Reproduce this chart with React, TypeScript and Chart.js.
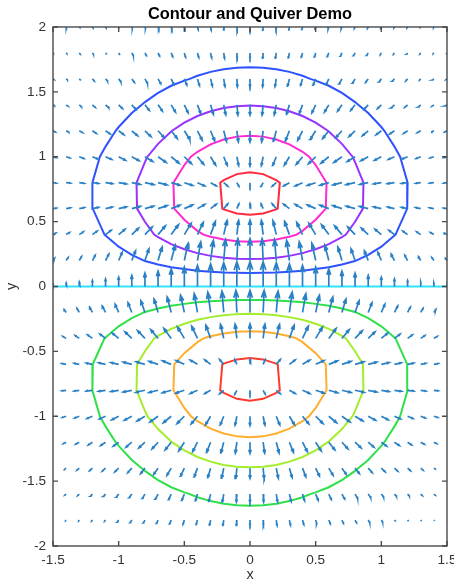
import React, { useEffect, useRef } from 'react';
import { Chart, registerables } from 'chart.js';

Chart.register(...registerables);

// ---------- text ----------
const TITLE = 'Contour and Quiver Demo';
const X_LABEL = 'x';
const Y_LABEL = 'y';
const X_TICKS = [-1.5, -1, -0.5, 0, 0.5, 1, 1.5];
const Y_TICKS = [-2, -1.5, -1, -0.5, 0, 0.5, 1, 1.5, 2];

// ---------- quiver grid ----------
const QX = [-1.5, -1.4, -1.3, -1.2, -1.1, -1, -0.9, -0.8, -0.7, -0.6, -0.5, -0.4, -0.3, -0.2, -0.1, 0,
  0.1, 0.2, 0.3, 0.4, 0.5, 0.6, 0.7, 0.8, 0.9, 1, 1.1, 1.2, 1.3, 1.4, 1.5];
const QY = [-2, -1.8, -1.6, -1.4, -1.2, -1, -0.8, -0.6, -0.4, -0.2, 0, 0.2, 0.4, 0.6, 0.8, 1, 1.2, 1.4, 1.6, 1.8, 2];

// quadrant (x >= 0, y >= 0) columns / rows; field is mirrored to the other quadrants
const GRID_X = [0, 0.1, 0.2, 0.3, 0.4, 0.5, 0.6, 0.7, 0.8, 0.9, 1, 1.1, 1.2, 1.3, 1.4, 1.5];
const GRID_Y = [0, 0.2, 0.4, 0.6, 0.8, 1, 1.2, 1.4, 1.6, 1.8, 2];

// horizontal arrow components (quadrant), row per GRID_Y
const U_Y00 = [0, 0, 0, 0, 0, 0, 0, 0, 0, 0, 0, 0, 0, 0, 0, 0];
const U_Y02 = [0, -0.04, -0.07, -0.11, -0.13, -0.15, -0.16, -0.16, -0.16, -0.15, -0.14, -0.13, -0.11, -0.09, -0.08, -0.06];
const U_Y04 = [0, -0.07, -0.13, -0.19, -0.23, -0.27, -0.29, -0.29, -0.29, -0.27, -0.25, -0.22, -0.19, -0.16, -0.13, -0.11];
const U_Y06 = [0, -0.08, -0.16, -0.23, -0.29, -0.33, -0.35, -0.36, -0.35, -0.34, -0.31, -0.27, -0.24, -0.2, -0.17, -0.13];
const U_Y08 = [0, -0.08, -0.16, -0.23, -0.29, -0.33, -0.35, -0.36, -0.36, -0.34, -0.31, -0.28, -0.24, -0.2, -0.17, -0.13];
const U_Y10 = [0, -0.07, -0.14, -0.2, -0.25, -0.29, -0.31, -0.32, -0.31, -0.29, -0.27, -0.24, -0.21, -0.18, -0.15, -0.12];
const U_Y12 = [0, -0.06, -0.11, -0.16, -0.19, -0.22, -0.24, -0.24, -0.24, -0.23, -0.21, -0.19, -0.16, -0.14, -0.11, -0.09];
const U_Y14 = [0, -0.04, -0.08, -0.11, -0.13, -0.15, -0.17, -0.17, -0.17, -0.16, -0.15, -0.13, -0.11, -0.09, -0.08, -0.06];
const U_Y16 = [0, -0.02, -0.05, -0.07, -0.08, -0.1, -0.1, -0.11, -0.1, -0.1, -0.09, -0.08, -0.07, -0.06, -0.05, -0.04];
const U_Y18 = [0, -0.01, -0.03, -0.04, -0.05, -0.05, -0.06, -0.06, -0.06, -0.06, -0.05, -0.05, -0.04, -0.03, -0.03, -0.02];
const U_Y20 = [0, -0.01, -0.01, -0.02, -0.03, -0.03, -0.03, -0.03, -0.03, -0.03, -0.03, -0.02, -0.02, -0.02, -0.01, -0.01];

// vertical arrow components (quadrant), row per GRID_Y
const V_Y00 = [1, 0.99, 0.96, 0.91, 0.85, 0.78, 0.7, 0.61, 0.53, 0.44, 0.37, 0.3, 0.24, 0.18, 0.14, 0.11];
const V_Y02 = [0.88, 0.88, 0.85, 0.81, 0.75, 0.69, 0.62, 0.54, 0.47, 0.39, 0.33, 0.26, 0.21, 0.16, 0.12, 0.09];
const V_Y04 = [0.58, 0.57, 0.56, 0.53, 0.49, 0.45, 0.4, 0.35, 0.31, 0.26, 0.21, 0.17, 0.14, 0.11, 0.08, 0.06];
const V_Y06 = [0.2, 0.19, 0.19, 0.18, 0.17, 0.15, 0.14, 0.12, 0.1, 0.09, 0.07, 0.06, 0.05, 0.04, 0.03, 0.02];
const V_Y08 = [-0.15, -0.15, -0.14, -0.13, -0.13, -0.11, -0.1, -0.09, -0.08, -0.07, -0.05, -0.04, -0.03, -0.03, -0.02, -0.02];
const V_Y10 = [-0.37, -0.36, -0.35, -0.34, -0.31, -0.29, -0.26, -0.23, -0.19, -0.16, -0.14, -0.11, -0.09, -0.07, -0.05, -0.04];
const V_Y12 = [-0.45, -0.44, -0.43, -0.41, -0.38, -0.35, -0.31, -0.27, -0.23, -0.2, -0.16, -0.13, -0.11, -0.08, -0.06, -0.05];
const V_Y14 = [-0.41, -0.41, -0.4, -0.38, -0.35, -0.32, -0.29, -0.25, -0.22, -0.18, -0.15, -0.12, -0.1, -0.08, -0.06, -0.04];
const V_Y16 = [-0.32, -0.32, -0.31, -0.29, -0.27, -0.25, -0.22, -0.2, -0.17, -0.14, -0.12, -0.09, -0.08, -0.06, -0.04, -0.03];
const V_Y18 = [-0.21, -0.21, -0.21, -0.2, -0.18, -0.17, -0.15, -0.13, -0.11, -0.1, -0.08, -0.06, -0.05, -0.04, -0.03, -0.02];
const V_Y20 = [-0.13, -0.13, -0.12, -0.12, -0.11, -0.1, -0.09, -0.08, -0.07, -0.06, -0.05, -0.04, -0.03, -0.02, -0.02, -0.01];

const U_ROWS = [U_Y00, U_Y02, U_Y04, U_Y06, U_Y08, U_Y10, U_Y12, U_Y14, U_Y16, U_Y18, U_Y20];
const V_ROWS = [V_Y00, V_Y02, V_Y04, V_Y06, V_Y08, V_Y10, V_Y12, V_Y14, V_Y16, V_Y18, V_Y20];

// ---------- contours (right half, from top at x=0 round to bottom at x=0) ----------
const LEVEL_04 = [[0, 0.881], [0.1, 0.866], [0.2, 0.82], [0.227, 0.8], [0.211, 0.6], [0.2, 0.594], [0.1, 0.562], [0, 0.552]];
const LEVEL_03 = [[0, 1.162], [0.1, 1.155], [0.2, 1.133], [0.3, 1.095], [0.4, 1.038], [0.45, 1.0], [0.5, 0.936], [0.583, 0.8],
  [0.577, 0.6], [0.5, 0.514], [0.4, 0.429], [0.355, 0.4], [0.3, 0.383], [0.2, 0.362], [0.1, 0.349], [0, 0.345]];
const LEVEL_02 = [[0, 1.394], [0.1, 1.389], [0.2, 1.375], [0.3, 1.35], [0.4, 1.314], [0.5, 1.263], [0.593, 1.2], [0.6, 1.194],
  [0.7, 1.099], [0.781, 1.0], [0.8, 0.958], [0.864, 0.8], [0.86, 0.6], [0.8, 0.499], [0.73, 0.4], [0.7, 0.381], [0.6, 0.327],
  [0.5, 0.287], [0.4, 0.257], [0.3, 0.236], [0.2, 0.222], [0.1, 0.213], [0, 0.211]];
const LEVEL_01 = [[0, 1.689], [0.1, 1.685], [0.2, 1.674], [0.3, 1.654], [0.4, 1.624], [0.459, 1.6], [0.5, 1.587], [0.6, 1.547],
  [0.7, 1.492], [0.8, 1.421], [0.824, 1.4], [0.9, 1.337], [1.0, 1.229], [1.023, 1.2], [1.1, 1.078], [1.143, 1.0], [1.2, 0.8],
  [1.197, 0.6], [1.108, 0.4], [1.1, 0.393], [1.0, 0.307], [0.9, 0.244], [0.808, 0.2], [0.8, 0.197], [0.7, 0.17], [0.6, 0.149],
  [0.5, 0.134], [0.4, 0.122], [0.3, 0.114], [0.2, 0.108], [0.1, 0.105], [0, 0.104]];
const LEVEL_00 = [[-1.5, 0], [1.5, 0]];

const CONTOUR_LEVELS = [0.4, 0.3, 0.2, 0.1, -0.1, -0.2, -0.3, -0.4];
const CONTOUR_HALVES = [LEVEL_04, LEVEL_03, LEVEL_02, LEVEL_01, LEVEL_01, LEVEL_02, LEVEL_03, LEVEL_04];
const CONTOUR_COLORS = ['#ff2a3c', '#ff2ad2', '#9a32ff', '#2f52ff', '#2ee04a', '#a2ee2c', '#ffae2e', '#ff3a2e'];
const ZERO_COLOR = '#2fe3ff';

// ---------- styles ----------
const ARROW_COLOR = '#2a80c4';
const ARROW_SCALE = 0.192;
const HEAD_A = 0.33;
const HEAD_B = 0.33;
const FONT = '"Liberation Sans", Arial, Helvetica, sans-serif';

function findIdx(arr: number[], v: number) {
  return arr.findIndex((g) => Math.abs(g - v) < 1e-6);
}

function buildArrows() {
  const pts: { x: number; y: number | null }[] = [];
  for (const y of QY) {
    for (const x of QX) {
      const ix = findIdx(GRID_X, Math.abs(x));
      const iy = findIdx(GRID_Y, Math.abs(y));
      const u = U_ROWS[iy][ix] * Math.sign(x) * Math.sign(y) * ARROW_SCALE;
      const v = V_ROWS[iy][ix] * ARROW_SCALE;
      const tx = x + u;
      const ty = y + v;
      pts.push({ x, y }, { x: tx, y: ty }, { x: tx, y: null });
      pts.push(
        { x: tx - HEAD_A * (u + HEAD_B * v), y: ty - HEAD_A * (v - HEAD_B * u) },
        { x: tx, y: ty },
        { x: tx - HEAD_A * (u - HEAD_B * v), y: ty - HEAD_A * (v + HEAD_B * u) },
        { x: tx, y: null },
      );
    }
  }
  return pts;
}

function buildLoop(half: number[][], sy: number) {
  const pts = half.map(([x, y]) => ({ x, y: sy * y }));
  for (let i = half.length - 2; i >= 1; i--) pts.push({ x: -half[i][0], y: sy * half[i][1] });
  pts.push({ x: half[0][0], y: sy * half[0][1] });
  return pts;
}

const boxPlugin = {
  id: 'matlabBox',
  afterDraw(chart: any) {
    const { ctx, chartArea } = chart;
    const { left, right, top, bottom } = chartArea;
    const xs = chart.scales.x;
    const ys = chart.scales.y;
    ctx.save();
    ctx.strokeStyle = '#4a4a4a';
    ctx.lineWidth = 1.4;
    ctx.strokeRect(left, top, right - left, bottom - top);
    ctx.beginPath();
    const tl = 5;
    for (const t of X_TICKS) {
      const px = xs.getPixelForValue(t);
      ctx.moveTo(px, bottom);
      ctx.lineTo(px, bottom - tl);
      ctx.moveTo(px, top);
      ctx.lineTo(px, top + tl);
    }
    for (const t of Y_TICKS) {
      const py = ys.getPixelForValue(t);
      ctx.moveTo(left, py);
      ctx.lineTo(left + tl, py);
      ctx.moveTo(right, py);
      ctx.lineTo(right - tl, py);
    }
    ctx.stroke();
    ctx.restore();
  },
};

export default function App() {
  const ref = useRef<HTMLCanvasElement | null>(null);
  useEffect(() => {
    document.body.style.margin = '0';
    const canvas = ref.current;
    if (!canvas) return;
    const datasets: any[] = [];
    datasets.push({
      label: 'quiver',
      data: buildArrows(),
      showLine: true,
      spanGaps: false,
      borderColor: ARROW_COLOR,
      borderWidth: 1.7,
      pointRadius: 0,
      order: 0,
    });
    CONTOUR_LEVELS.forEach((lvl, i) => {
      datasets.push({
        label: 'level ' + lvl,
        data: buildLoop(CONTOUR_HALVES[i], lvl > 0 ? 1 : -1),
        showLine: true,
        borderColor: CONTOUR_COLORS[i],
        borderWidth: 2,
        pointRadius: 0,
        tension: 0,
        order: 1,
      });
    });
    datasets.push({
      label: 'level 0',
      data: LEVEL_00.map(([x, y]) => ({ x, y })),
      showLine: true,
      borderColor: ZERO_COLOR,
      borderWidth: 2.2,
      pointRadius: 0,
      order: 1,
    });

    const chart = new Chart(canvas, {
      type: 'scatter',
      data: { datasets },
      options: {
        animation: false,
        responsive: false,
        events: [],
        layout: { padding: { left: 0, right: 7, top: 0, bottom: 0 } },
        plugins: {
          legend: { display: false },
          tooltip: { enabled: false },
          title: {
            display: true,
            fullSize: false,
            text: TITLE,
            color: '#000',
            font: { family: FONT, size: 16.4, weight: 'bold', lineHeight: 1.2 },
            padding: { top: 4.5, bottom: 2.8 },
          },
        },
        scales: {
          x: {
            type: 'linear',
            min: -1.5,
            max: 1.5,
            grid: { display: false, drawTicks: false, tickLength: 0 },
            border: { display: false },
            afterBuildTicks: (s: any) => {
              s.ticks = X_TICKS.map((v) => ({ value: v }));
            },
            afterFit: (s: any) => {
              s.height = 38;
              s.paddingLeft = 0;
              s.paddingRight = 0;
            },
            ticks: {
              color: '#333',
              padding: 6,
              maxRotation: 0,
              autoSkip: false,
              font: { family: FONT, size: 13.6 },
              callback: (v: any) => String(v),
            },
            title: {
              display: true,
              text: X_LABEL,
              color: '#333',
              font: { family: FONT, size: 14.5 },
              padding: { top: 0, bottom: 0 },
            },
          },
          y: {
            type: 'linear',
            min: -2,
            max: 2,
            grid: { display: false, drawTicks: false, tickLength: 0 },
            border: { display: false },
            afterBuildTicks: (s: any) => {
              s.ticks = Y_TICKS.map((v) => ({ value: v }));
            },
            afterFit: (s: any) => {
              s.width = 53;
              s.paddingTop = 0;
              s.paddingBottom = 0;
            },
            ticks: {
              color: '#333',
              padding: 7,
              autoSkip: false,
              font: { family: FONT, size: 13.6 },
              callback: (v: any) => String(v),
            },
            title: {
              display: true,
              text: Y_LABEL,
              color: '#333',
              font: { family: FONT, size: 14.5 },
              padding: { top: 3, bottom: 0 },
            },
          },
        },
      },
      plugins: [boxPlugin],
    });
    return () => chart.destroy();
  }, []);

  return (
    <div style={{ position: 'absolute', left: 0, top: 0, width: 454, height: 584, background: '#fff' }}>
      <canvas ref={ref} width={454} height={584} style={{ display: 'block', width: 454, height: 584 }} />
    </div>
  );
}
